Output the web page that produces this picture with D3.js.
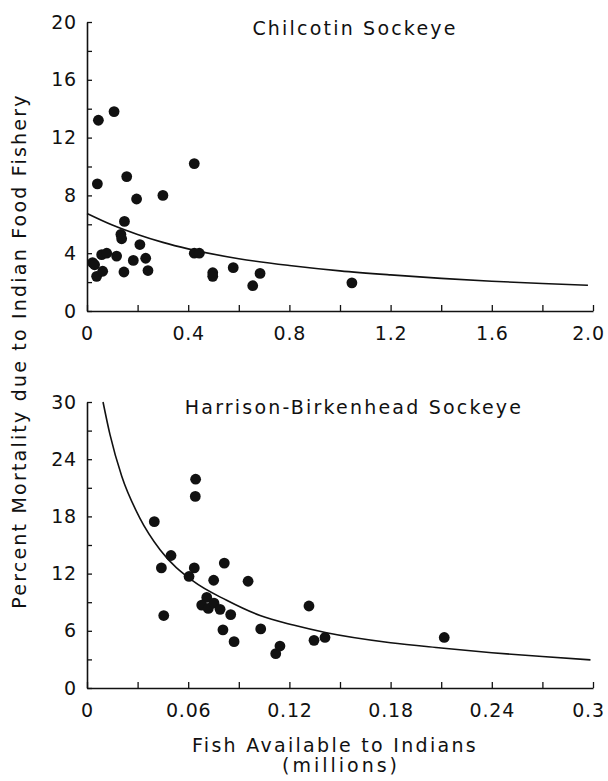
<!DOCTYPE html>
<html>
<head>
<meta charset="utf-8">
<script src="https://cdn.jsdelivr.net/npm/d3@7"></script>
<style>
  body { margin: 0; background: #fff; }
  svg { display: block; }
  text { font-family: "DejaVu Sans", sans-serif; fill: #111; }
</style>
</head>
<body>
<svg id="chart" width="608" height="781"></svg>
<script>
// Chilcotin sockeye: fish available (millions) vs percent mortality
const chilX = [0.045, 0.107, 0.041, 0.157, 0.196, 0.30, 0.424, 0.148, 0.134, 0.137, 0.209,
  0.022, 0.030, 0.058, 0.078, 0.117, 0.183, 0.232, 0.038, 0.062, 0.146, 0.241,
  0.424, 0.444, 0.497, 0.497, 0.578, 0.655, 0.684, 1.047];
const chilY = [13.2, 13.8, 8.8, 9.3, 7.75, 8.0, 10.2, 6.2, 5.3, 5.0, 4.6,
  3.35, 3.2, 3.9, 4.0, 3.8, 3.5, 3.65, 2.4, 2.75, 2.7, 2.8,
  4.0, 4.0, 2.65, 2.4, 3.0, 1.75, 2.6, 1.95];
// fitted curve
const chilCurveX = [0, 0.1, 0.2, 0.3, 0.4, 0.6, 0.8, 1.0, 1.2, 1.4, 1.6, 1.8, 1.98];
const chilCurveY = [6.75, 5.95, 5.3, 4.75, 4.3, 3.62, 3.15, 2.78, 2.5, 2.26, 2.06, 1.9, 1.78];
const chilXTicks = [0, 0.2, 0.4, 0.6, 0.8, 1.0, 1.2, 1.4, 1.6, 1.8, 2.0];
const chilXLabels = ["0", "", "0.4", "", "0.8", "", "1.2", "", "1.6", "", "2.0"];
const chilYTicks = [0, 2, 4, 6, 8, 10, 12, 14, 16, 18, 20];
const chilYLabels = ["0", "", "4", "", "8", "", "12", "", "16", "", "20"];

// Harrison-Birkenhead sockeye
const harX = [0.0399, 0.0644, 0.0642, 0.0498, 0.0441, 0.0636, 0.0605, 0.0814, 0.0751, 0.0955,
  0.0455, 0.071, 0.068, 0.0719, 0.0753, 0.0789, 0.0852, 0.0806, 0.0872, 0.103,
  0.1119, 0.1144, 0.1316, 0.1346, 0.1411, 0.2118];
const harY = [17.45, 21.9, 20.1, 13.9, 12.6, 12.6, 11.7, 13.1, 11.3, 11.2,
  7.6, 9.5, 8.7, 8.35, 8.9, 8.25, 7.7, 6.1, 4.86, 6.2,
  3.6, 4.4, 8.6, 5.0, 5.3, 5.3];
const harCurveX = [0.0095, 0.0136, 0.0206, 0.0314, 0.0433, 0.063, 0.0828, 0.1026, 0.1223,
  0.142, 0.18, 0.21, 0.24, 0.27, 0.2985];
const harCurveY = [30.0, 26.6, 22.2, 17.8, 14.5, 11.2, 9.2, 7.6, 6.6,
  5.8, 4.75, 4.2, 3.7, 3.3, 2.95];
const harXTicks = [0, 0.03, 0.06, 0.09, 0.12, 0.15, 0.18, 0.21, 0.24, 0.27, 0.3];
const harXLabels = ["0", "", "0.06", "", "0.12", "", "0.18", "", "0.24", "", "0.3"];
const harYTicks = [0, 3, 6, 9, 12, 15, 18, 21, 24, 27, 30];
const harYLabels = ["0", "", "6", "", "12", "", "18", "", "24", "", "30"];

const svg = d3.select('#chart');

function drawPanel(opt) {
  const x = d3.scaleLinear().domain(opt.xDomain).range([87, 593]);
  const y = d3.scaleLinear().domain(opt.yDomain).range([opt.bottom, opt.top]);
  const g = svg.append('g');

  const xAxis = d3.axisBottom(x)
    .tickValues(opt.xTicks)
    .tickFormat((d, i) => opt.xLabels[i])
    .tickSizeInner(-6)
    .tickSizeOuter(0)
    .tickPadding(16);
  const yAxis = d3.axisLeft(y)
    .tickValues(opt.yTicks)
    .tickFormat((d, i) => opt.yLabels[i])
    .tickSizeInner(-5)
    .tickSizeOuter(0)
    .tickPadding(10);

  const gx = g.append('g').attr('transform', `translate(0,${opt.bottom})`).call(xAxis);
  const gy = g.append('g').attr('transform', 'translate(87,0)').call(yAxis);
  [gx, gy].forEach(a => {
    a.select('.domain').attr('stroke', '#111').attr('stroke-width', 1.6);
    a.selectAll('.tick line').attr('stroke', '#111').attr('stroke-width', 1.3);
    a.selectAll('text')
      .attr('font-family', '"DejaVu Sans", sans-serif')
      .attr('font-size', 19)
      .attr('letter-spacing', 0.8)
      .attr('fill', '#111');
  });
  // keep the last x label inside the page
  gx.selectAll('.tick text').filter((d, i) => i === opt.xTicks.length - 1).attr('dx', -5);

  const line = d3.line()
    .x((d, i) => x(opt.curveX[i]))
    .y(d => y(d))
    .curve(d3.curveMonotoneX);
  g.append('path')
    .attr('d', line(opt.curveY))
    .attr('fill', 'none')
    .attr('stroke', '#111')
    .attr('stroke-width', 1.6);

  g.selectAll('circle.dot')
    .data(opt.ptsY)
    .enter()
    .append('circle')
    .attr('class', 'dot')
    .attr('cx', (d, i) => x(opt.ptsX[i]))
    .attr('cy', d => y(d))
    .attr('r', 5.4)
    .attr('fill', '#111');

  g.append('text')
    .attr('x', opt.titleX)
    .attr('y', opt.titleY)
    .attr('text-anchor', 'middle')
    .attr('font-size', 19)
    .attr('letter-spacing', 2.2)
    .text(opt.title);
}

drawPanel({
  xDomain: [0, 2.0], yDomain: [0, 20], top: 22, bottom: 311,
  xTicks: chilXTicks, xLabels: chilXLabels, yTicks: chilYTicks, yLabels: chilYLabels,
  ptsX: chilX, ptsY: chilY, curveX: chilCurveX, curveY: chilCurveY,
  title: 'Chilcotin Sockeye', titleX: 355, titleY: 35
});

drawPanel({
  xDomain: [0, 0.3], yDomain: [0, 30], top: 402, bottom: 688,
  xTicks: harXTicks, xLabels: harXLabels, yTicks: harYTicks, yLabels: harYLabels,
  ptsX: harX, ptsY: harY, curveX: harCurveX, curveY: harCurveY,
  title: 'Harrison-Birkenhead Sockeye', titleX: 354, titleY: 414
});

// axis titles
svg.append('text')
  .attr('transform', 'translate(26,351) rotate(-90)')
  .attr('text-anchor', 'middle')
  .attr('font-size', 19)
  .attr('letter-spacing', 2.2)
  .text('Percent Mortality due to Indian Food Fishery');

svg.append('text')
  .attr('x', 335).attr('y', 752)
  .attr('text-anchor', 'middle')
  .attr('font-size', 19)
  .attr('letter-spacing', 2.3)
  .text('Fish Available to Indians');

svg.append('text')
  .attr('x', 341).attr('y', 772)
  .attr('text-anchor', 'middle')
  .attr('font-size', 19)
  .attr('letter-spacing', 3)
  .text('(millions)');
</script>
</body>
</html>
